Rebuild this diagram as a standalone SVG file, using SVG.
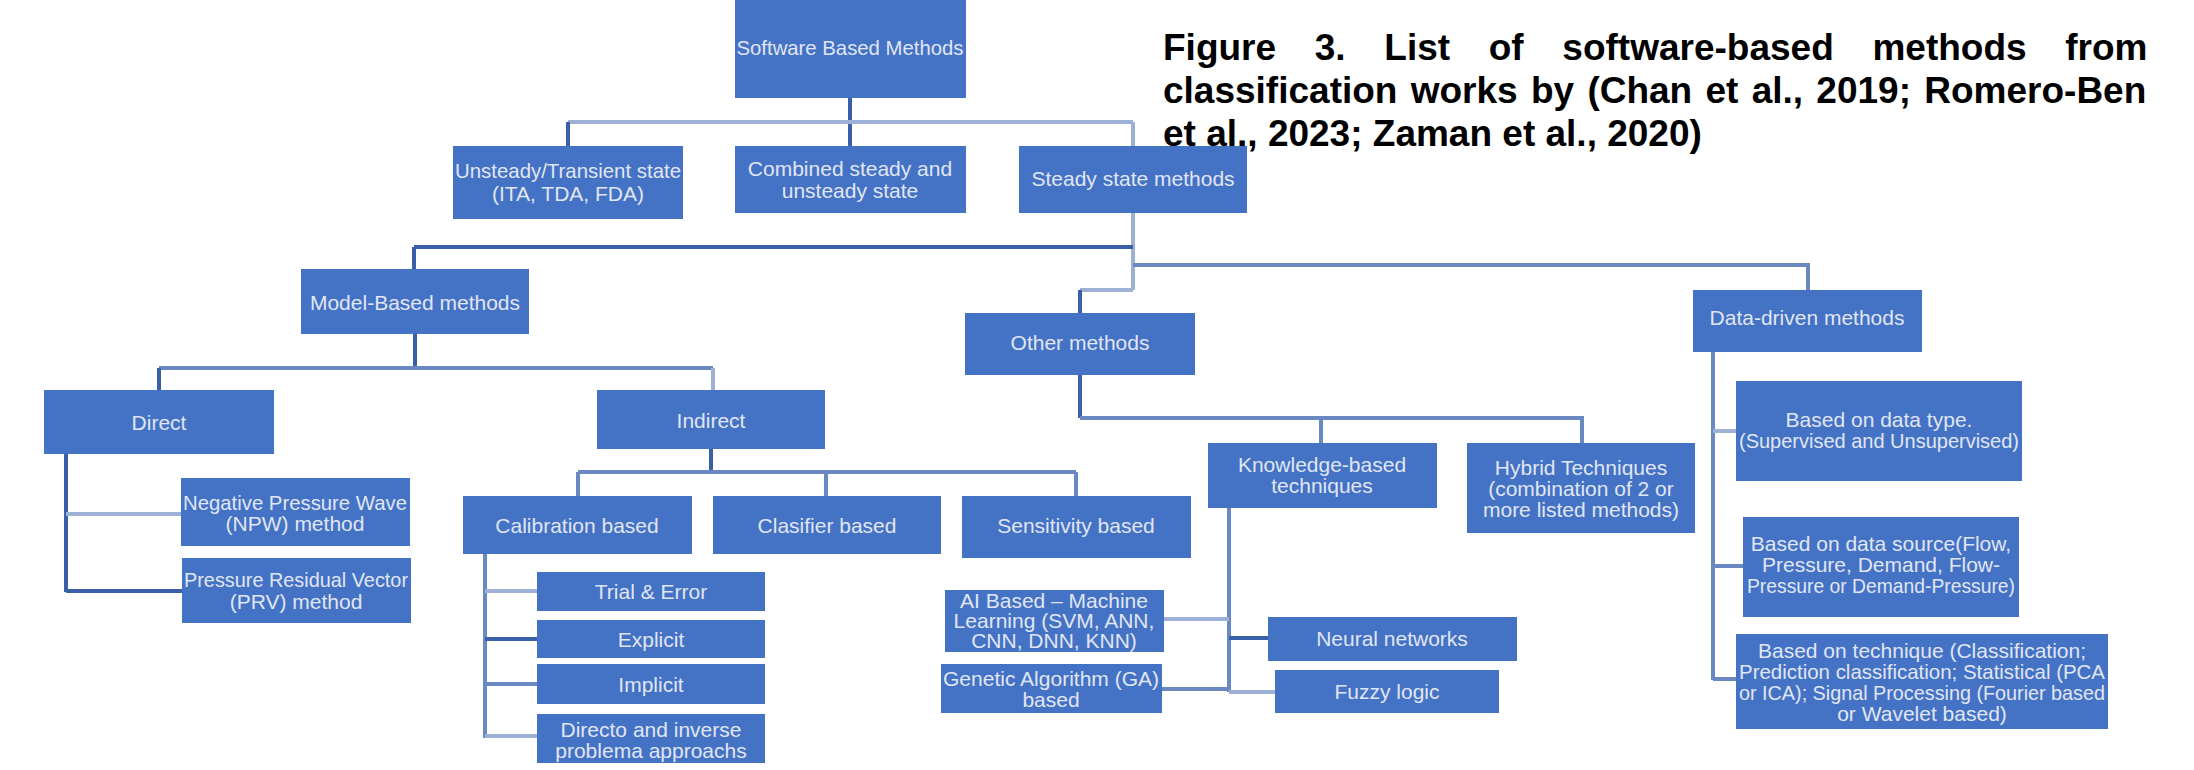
<svg xmlns="http://www.w3.org/2000/svg" width="2194" height="770" viewBox="0 0 2194 770">
<style>
.n rect{fill:#4472c4}
.n text{font-family:"Liberation Sans",Arial,sans-serif;font-size:21px;fill:#e0e6f3;text-anchor:middle;dominant-baseline:central}
.d{stroke:#3b60aa;stroke-width:4;fill:none}
.m{stroke:#6a88c2;stroke-width:4;fill:none}
.l{stroke:#9db1d6;stroke-width:4;fill:none}
.cap{font-family:"Liberation Sans",Arial,sans-serif;font-size:37px;font-weight:bold;fill:#000}
</style>
<rect width="2194" height="770" fill="#fff"/>
<g id="connectors">
<path class="d" d="M850 98V146"/>
<path class="l" d="M568 122H1133"/>
<path class="d" d="M568 122V146"/>
<path class="l" d="M1133 122V146"/>
<path class="l" d="M1133 213V290"/>
<path class="d" d="M414 247H1133"/>
<path class="d" d="M414 247V269"/>
<path class="m" d="M1133 265H1808V290"/>
<path class="l" d="M1080 290H1133"/>
<path class="d" d="M1080 290V313"/>
<path class="d" d="M415 334V368"/>
<path class="m" d="M159 368H713"/>
<path class="d" d="M159 368V390"/>
<path class="l" d="M713 368V390"/>
<path class="d" d="M66 454V592"/>
<path class="l" d="M66 514H181"/>
<path class="d" d="M66 591H182"/>
<path class="d" d="M711 449V472"/>
<path class="m" d="M578 472H1076"/>
<path class="m" d="M578 472V496M826 472V496M1076 472V496"/>
<path class="m" d="M485 554V738"/>
<path class="l" d="M485 591H537"/>
<path class="d" d="M485 639H537"/>
<path class="m" d="M485 684H537"/>
<path class="l" d="M485 736H537"/>
<path class="d" d="M1080 375V418"/>
<path class="m" d="M1080 418H1582V443"/>
<path class="m" d="M1321 418V443"/>
<path class="m" d="M1229 508V692"/>
<path class="l" d="M1164 619H1229"/>
<path class="d" d="M1229 638H1268"/>
<path class="m" d="M1162 689H1229"/>
<path class="l" d="M1229 692H1275"/>
<path class="m" d="M1713 352V680"/>
<path class="l" d="M1713 431H1736"/>
<path class="m" d="M1713 566H1743"/>
<path class="m" d="M1713 679H1736"/>
</g>
<g id="root" class="n"><rect x="735" y="0" width="231" height="98"/><text x="850" y="47" textLength="227" lengthAdjust="spacingAndGlyphs">Software Based Methods</text></g>
<g id="unsteady" class="n"><rect x="453" y="146" width="230" height="73"/><text x="568"><tspan x="568" y="170" textLength="226" lengthAdjust="spacingAndGlyphs">Unsteady/Transient state</tspan><tspan x="568" y="193">(ITA, TDA, FDA)</tspan></text></g>
<g id="combined" class="n"><rect x="735" y="146" width="231" height="67"/><text x="850"><tspan x="850" y="168">Combined steady and</tspan><tspan x="850" y="190">unsteady state</tspan></text></g>
<g id="steady" class="n"><rect x="1019" y="146" width="228" height="67"/><text x="1133" y="178">Steady state methods</text></g>
<g id="model" class="n"><rect x="301" y="269" width="228" height="65"/><text x="415" y="302">Model-Based methods</text></g>
<g id="other" class="n"><rect x="965" y="313" width="230" height="62"/><text x="1080" y="342">Other methods</text></g>
<g id="datadriven" class="n"><rect x="1693" y="290" width="229" height="62"/><text x="1807" y="317">Data-driven methods</text></g>
<g id="direct" class="n"><rect x="44" y="390" width="230" height="64"/><text x="159" y="422">Direct</text></g>
<g id="indirect" class="n"><rect x="597" y="390" width="228" height="59"/><text x="711" y="420">Indirect</text></g>
<g id="npw" class="n"><rect x="181" y="478" width="229" height="68"/><text x="295"><tspan x="295" y="502" textLength="224" lengthAdjust="spacingAndGlyphs">Negative Pressure Wave</tspan><tspan x="295" y="523">(NPW) method</tspan></text></g>
<g id="prv" class="n"><rect x="182" y="558" width="229" height="65"/><text x="296"><tspan x="296" y="579" textLength="224" lengthAdjust="spacingAndGlyphs">Pressure Residual Vector</tspan><tspan x="296" y="601">(PRV) method</tspan></text></g>
<g id="calibration" class="n"><rect x="463" y="496" width="229" height="58"/><text x="577" y="525">Calibration based</text></g>
<g id="classifier" class="n"><rect x="713" y="496" width="228" height="58"/><text x="827" y="525">Clasifier based</text></g>
<g id="sensitivity" class="n"><rect x="962" y="496" width="229" height="62"/><text x="1076" y="525">Sensitivity based</text></g>
<g id="trial" class="n"><rect x="537" y="572" width="228" height="39"/><text x="651" y="591">Trial &amp; Error</text></g>
<g id="explicit" class="n"><rect x="537" y="620" width="228" height="38"/><text x="651" y="639">Explicit</text></g>
<g id="implicit" class="n"><rect x="537" y="664" width="228" height="40"/><text x="651" y="684">Implicit</text></g>
<g id="directo" class="n"><rect x="537" y="714" width="228" height="49"/><text x="651"><tspan x="651" y="729">Directo and inverse</tspan><tspan x="651" y="750">problema approachs</tspan></text></g>
<g id="knowledge" class="n"><rect x="1208" y="443" width="229" height="65"/><text x="1322"><tspan x="1322" y="464">Knowledge-based</tspan><tspan x="1322" y="485">techniques</tspan></text></g>
<g id="hybrid" class="n"><rect x="1467" y="443" width="228" height="90"/><text x="1581"><tspan x="1581" y="467">Hybrid Techniques</tspan><tspan x="1581" y="488">(combination of 2 or</tspan><tspan x="1581" y="509">more listed methods)</tspan></text></g>
<g id="ai" class="n"><rect x="945" y="590" width="219" height="62"/><text x="1054"><tspan x="1054" y="600">AI Based – Machine</tspan><tspan x="1054" y="620">Learning (SVM, ANN,</tspan><tspan x="1054" y="640">CNN, DNN, KNN)</tspan></text></g>
<g id="ga" class="n"><rect x="941" y="664" width="221" height="49"/><text x="1051"><tspan x="1051" y="678" textLength="216" lengthAdjust="spacingAndGlyphs">Genetic Algorithm (GA)</tspan><tspan x="1051" y="699">based</tspan></text></g>
<g id="neural" class="n"><rect x="1268" y="617" width="249" height="44"/><text x="1392" y="638">Neural networks</text></g>
<g id="fuzzy" class="n"><rect x="1275" y="670" width="224" height="43"/><text x="1387" y="691">Fuzzy logic</text></g>
<g id="datatype" class="n"><rect x="1736" y="381" width="286" height="100"/><text x="1879"><tspan x="1879" y="419">Based on data type.</tspan><tspan x="1879" y="440" textLength="280" lengthAdjust="spacingAndGlyphs">(Supervised and Unsupervised)</tspan></text></g>
<g id="datasource" class="n"><rect x="1743" y="517" width="276" height="100"/><text x="1881"><tspan x="1881" y="543">Based on data source(Flow,</tspan><tspan x="1881" y="564">Pressure, Demand, Flow-</tspan><tspan x="1881" y="585" textLength="268" lengthAdjust="spacingAndGlyphs">Pressure or Demand-Pressure)</tspan></text></g>
<g id="technique" class="n"><rect x="1736" y="634" width="372" height="95"/><text x="1922"><tspan x="1922" y="650">Based on technique (Classification;</tspan><tspan x="1922" y="671" textLength="366" lengthAdjust="spacingAndGlyphs">Prediction classification; Statistical (PCA</tspan><tspan x="1922" y="692" textLength="366" lengthAdjust="spacingAndGlyphs">or ICA); Signal Processing (Fourier based</tspan><tspan x="1922" y="713">or Wavelet based)</tspan></text></g>
<g id="caption">
<text class="cap" x="1163" y="60" word-spacing="28.4">Figure 3. List of software-based methods from</text>
<text class="cap" x="1163" y="103" word-spacing="3">classification works by (Chan et al., 2019; Romero-Ben</text>
<text class="cap" x="1163" y="146">et al., 2023; Zaman et al., 2020)</text>
</g>
</svg>
